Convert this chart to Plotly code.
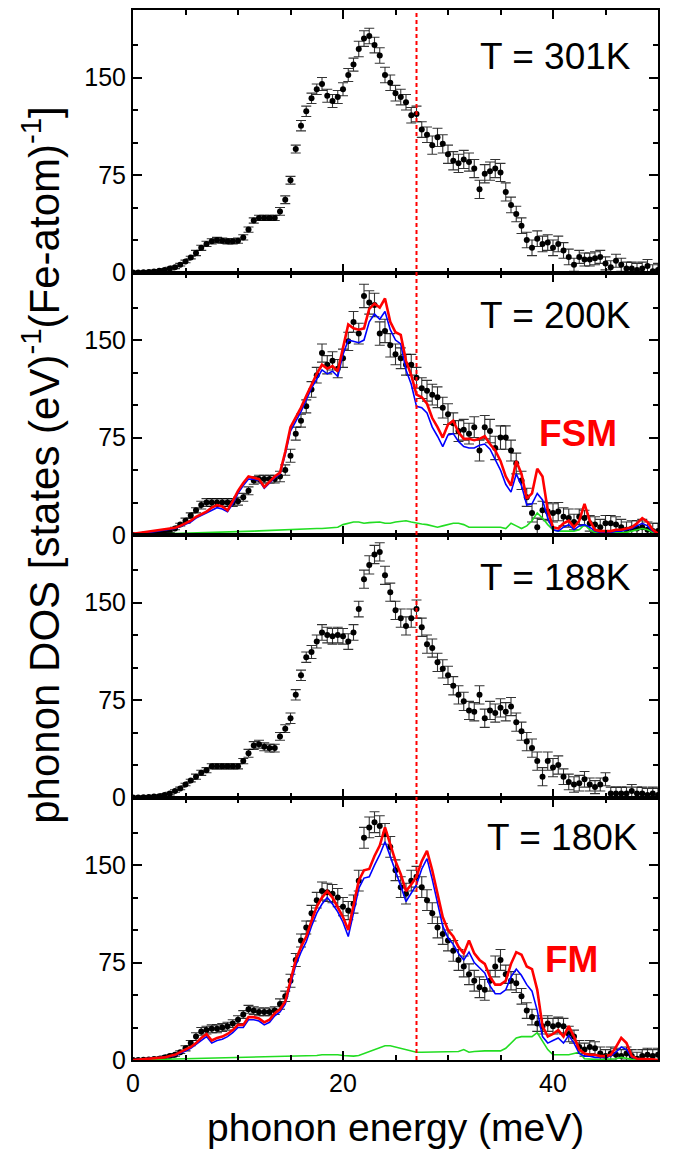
import plotly.graph_objects as go
from plotly.subplots import make_subplots

# energy grid (meV), 0.5 meV steps
energy = [i * 0.5 for i in range(101)]

# ---- T = 301K data ----
dos_301 = [0, 0, 0.2, 0.4, 0.8, 1.3, 2, 3, 4, 6,
           8.5, 11.5, 15, 19, 22, 24, 25, 24.5, 24, 24,
           24.5, 27, 33, 40, 42, 42, 42, 42, 47, 56,
           71, 95, 113, 124, 134, 141, 145, 136, 132, 135,
           141, 152, 160, 172, 180, 182, 175, 167, 152, 146,
           138, 135, 131, 121, 122, 110, 106, 98, 104, 99,
           91, 86, 84, 87, 85, 80, 64, 76, 78, 80,
           77, 62, 52, 45, 36, 25, 19, 26, 22, 23,
           19, 22, 17, 12, 6, 12, 10, 10, 11, 12,
           7, 4, 9, 6, 3, 3, 2, 3, 5, 1,
           2]
err_301 = [1, 1, 1, 1, 1, 1, 1, 1, 1, 1,
           1, 1, 2, 2, 2, 2, 2, 2, 2, 2,
           2, 2, 2, 2, 2, 2, 2, 2, 3, 3,
           3, 3, 4, 4, 4, 4, 5, 5, 5, 5,
           5, 5, 5, 6, 6, 6, 6, 6, 6, 6,
           6, 6, 6, 6, 6, 6, 6, 7, 7, 7,
           7, 7, 7, 7, 7, 7, 7, 7, 7, 7,
           7, 7, 6, 6, 6, 6, 6, 6, 6, 6,
           6, 6, 6, 6, 5, 5, 5, 5, 5, 5,
           5, 5, 5, 5, 5, 5, 5, 5, 5, 5,
           5]

# ---- T = 200K data + FSM calc ----
dos_200 = [0, 0, 0.3, 0.6, 1, 1.5, 2, 3, 5, 8,
           11, 15, 19, 23, 25, 25, 25, 25, 25, 25,
           26, 29, 34, 42, 43, 43, 43, 43, 45, 50,
           61, 78, 88, 99, 112, 123, 140, 131, 134, 128,
           136, 149, 164, 155, 184, 179, 177, 155, 157, 146,
           139, 136, 131, 131, 121, 113, 111, 108, 106, 98,
           93, 86, 80, 81, 78, 83, 65, 83, 80, 67,
           75, 75, 65, 55, 42, 29, 17, 6, 19, 18,
           17, 18, 14, 13, 10, 14, 13, 9, 8, 6,
           9, 9, 8, 6, 4, 5, 5, 6, 4, 3,
           3]
err_200 = [1, 1, 1, 1, 1, 1, 1, 1, 1, 1,
           2, 2, 2, 3, 3, 3, 3, 3, 3, 3,
           3, 3, 3, 3, 3, 3, 3, 3, 4, 4,
           5, 5, 5, 5, 6, 6, 7, 7, 7, 7,
           7, 7, 8, 8, 9, 9, 9, 9, 9, 9,
           8, 8, 8, 8, 8, 8, 8, 8, 8, 8,
           8, 8, 8, 8, 8, 8, 8, 9, 9, 9,
           9, 9, 8, 8, 7, 7, 7, 7, 7, 7,
           7, 7, 7, 7, 6, 6, 6, 6, 6, 6,
           6, 6, 6, 6, 6, 6, 6, 6, 6, 6,
           6]
red_200 = [1, 1.5, 2, 2.5, 3, 3.5, 4, 4.5, 5.5, 7,
           9, 11, 14, 16, 18, 21, 23, 22, 19, 26,
           34, 40, 45, 44, 43, 37, 41, 45, 48, 64,
           83, 90, 98, 107, 116, 124, 131, 128, 130, 126,
           144, 162, 159, 158, 159, 174, 178, 175, 182, 164,
           156, 154, 134, 123, 108, 106, 101, 90, 83, 75,
           85, 88, 79, 74, 74, 73, 74, 76, 70, 65,
           57, 45, 38, 57, 47, 28, 32, 51, 45, 19,
           6, 5, 9, 11, 6, 11, 24, 11, 4, 3,
           3, 3, 4, 4, 5, 6, 9, 13, 10, 4,
           1]
blue_200 = [1, 1.2, 1.5, 2, 2.5, 3, 3.5, 4, 5, 6.5,
            8, 10, 13, 15, 17, 19, 21, 20, 18, 24,
            32, 38, 43, 43, 42, 36, 40, 44, 47, 62,
            80, 87, 95, 104, 113, 120, 127, 124, 126, 122,
            139, 150, 149, 148, 150, 164, 170, 166, 172, 158,
            150, 147, 127, 116, 99, 98, 94, 83, 76, 68,
            77, 78, 72, 68, 67, 67, 69, 70, 66, 58,
            50, 39, 33, 47, 38, 23, 24, 32, 27, 13,
            4, 3, 6, 8, 4, 7, 8, 6, 3, 2,
            2, 2, 3, 3, 4, 5, 7, 9, 7, 3,
            1]
green_200 = [0.2, 0.3, 0.4, 0.5, 0.6, 0.7, 0.8, 0.9, 1, 1.1,
             1.2, 1.3, 1.4, 1.5, 1.6, 1.7, 1.8, 2, 2.1, 2.2,
             2.4, 2.6, 2.8, 3, 3.2, 3.4, 3.5, 3.7, 3.9, 4,
             4, 4.2, 4.4, 4.6, 4.8, 5, 5, 5.2, 5.5, 6,
             8, 9, 10, 10, 9, 9.5, 10, 10, 9, 9,
             10, 10.5, 11, 10, 9, 8.5, 8, 7, 6, 7,
             8, 9, 9, 8, 6, 6, 6, 6.5, 6, 6,
             6, 5, 9, 7, 5, 7, 11, 17, 13, 8,
             4, 3, 3, 3, 3, 4, 8, 4, 2, 2,
             2, 2, 2, 2, 2, 3, 4, 5, 4, 2,
             1]

# ---- T = 188K data ----
dos_188 = [0, 0, 0.2, 0.4, 0.7, 1, 2, 3, 5, 7,
           10, 13, 16, 19, 21, 24, 24, 24, 24, 24,
           24, 28, 34, 40, 41, 39, 38, 38, 47, 53,
           61, 79, 94, 108, 112, 120, 127, 125, 124, 125,
           124, 120, 127, 145, 168, 179, 187, 189, 171, 158,
           144, 138, 132, 138, 145, 131, 118, 115, 104, 99,
           94, 86, 79, 74, 67, 66, 79, 61, 67, 65,
           69, 66, 70, 58, 51, 43, 38, 28, 16, 28,
           23, 25, 16, 12, 10, 11, 14, 10, 8, 10,
           14, 3, 3, 3, 3, 5, 3, 3, 2, 3,
           2]
err_188 = [1, 1, 1, 1, 1, 1, 1, 1, 1, 1,
           1, 1, 2, 2, 2, 2, 2, 2, 2, 2,
           2, 2, 3, 3, 3, 3, 3, 3, 3, 3,
           4, 4, 4, 4, 5, 5, 6, 6, 6, 6,
           6, 6, 6, 6, 7, 7, 7, 7, 7, 7,
           7, 7, 7, 7, 7, 7, 7, 7, 7, 7,
           7, 7, 7, 7, 7, 7, 7, 7, 7, 7,
           7, 7, 7, 7, 7, 7, 7, 7, 7, 7,
           7, 7, 6, 6, 6, 6, 6, 5, 5, 5,
           5, 5, 5, 5, 5, 5, 5, 5, 5, 5,
           5]

# ---- T = 180K data + FM calc ----
dos_180 = [0, 0, 0.2, 0.4, 0.7, 1, 2, 3, 4, 6,
           9, 13, 18, 22, 23, 24, 24, 25, 26, 28,
           31, 35, 39, 38, 37, 37, 37, 38, 43, 49,
           61, 77, 92, 102, 113, 123, 130, 129, 128, 125,
           118, 115, 120, 138, 171, 179, 183, 180, 174, 164,
           146, 133, 128, 138, 141, 133, 123, 113, 102, 97,
           92, 84, 77, 72, 66, 61, 56, 54, 61, 72,
           77, 66, 61, 59, 49, 38, 33, 28, 26, 28,
           26, 27, 26, 20, 18, 10, 8, 10, 9, 5,
           3, 5, 4, 3, 5, 3, 1, 3, 4, 3,
           4]
err_180 = [1, 1, 1, 1, 1, 1, 1, 1, 1, 1,
           2, 2, 3, 3, 3, 3, 3, 3, 3, 3,
           3, 3, 3, 3, 3, 3, 3, 3, 4, 4,
           5, 5, 5, 5, 6, 6, 7, 7, 7, 7,
           7, 7, 7, 8, 8, 8, 8, 8, 8, 8,
           8, 8, 8, 8, 8, 8, 8, 8, 8, 8,
           8, 8, 8, 8, 8, 8, 8, 8, 8, 8,
           8, 7, 7, 7, 6, 6, 6, 6, 6, 6,
           6, 6, 6, 6, 5, 5, 5, 5, 5, 5,
           5, 5, 5, 5, 5, 5, 5, 5, 5, 5,
           5]
red_180 = [0, 0.3, 0.6, 1, 1.3, 1.6, 2, 3, 4, 6,
           8, 10, 13, 17, 20, 15, 17, 18, 20, 23,
           27, 27, 33, 33, 32, 29, 31, 36, 39, 45,
           61, 77, 87, 95, 107, 118, 125, 130, 125, 118,
           110, 100, 118, 138, 146, 147, 157, 165, 179, 166,
           153, 143, 130, 135, 141, 153, 161, 146, 128, 110,
           100, 95, 87, 82, 92, 82, 77, 74, 64, 58,
           58, 61, 74, 83, 81, 72, 70, 54, 26, 18,
           20, 23, 18, 26, 18, 8, 5, 4, 4, 3,
           3, 4, 10, 17, 13, 3, 1, 1, 1, 0.5,
           0]
blue_180 = [0, 0.3, 0.6, 0.9, 1.2, 1.5, 1.8, 2.6, 3.5, 5,
            7, 9, 12, 15, 18, 13, 15, 16, 18, 21,
            25, 25, 31, 31, 30, 27, 29, 34, 37, 43,
            58, 73, 83, 91, 103, 113, 120, 125, 120, 114,
            106, 95, 113, 132, 140, 141, 150, 158, 168, 157,
            145, 134, 122, 128, 135, 147, 155, 139, 121, 103,
            94, 89, 82, 77, 83, 75, 71, 67, 57, 51,
            51, 54, 64, 70, 65, 58, 53, 38, 18, 13,
            15, 17, 13, 19, 13, 5, 3, 3, 2, 2,
            2, 3, 6, 10, 8, 2, 1, 1, 0.5, 0.3,
            0]
green_180 = [0, 0.1, 0.2, 0.3, 0.4, 0.5, 0.6, 0.7, 0.8, 0.9,
             1, 1, 1.1, 1.2, 1.3, 1.3, 1.4, 1.5, 1.5, 1.6,
             1.7, 1.8, 1.9, 2, 2, 2.1, 2.2, 2.3, 2.4, 2.5,
             2.6, 2.8, 3, 3, 3.2, 3.5, 4, 4, 4.5, 4,
             3.5, 3, 3, 3.5, 5, 6, 8, 9.5, 11, 11,
             10, 9, 8, 7, 6, 6, 6, 6, 6, 6,
             6, 6.5, 6.5, 8, 6, 6.5, 7, 7, 7, 7,
             7, 9, 13, 17, 18, 18, 18, 21, 15, 8,
             4, 4, 4, 4, 5, 6, 1, 0.5, 0.5, 0.5,
             0.5, 0.5, 1, 2, 1, 0.5, 0.3, 0.2, 0.2, 0.2,
             0.2]

panel_labels = ["T = 301K", "T = 200K", "T = 188K", "T = 180K"]
dos_sets = [dos_301, dos_200, dos_188, dos_180]
err_sets = [err_301, err_200, err_188, err_180]
calc_sets = {2: (red_200, blue_200, green_200, "FSM"),
             4: (red_180, blue_180, green_180, "FM")}
transition_energy = 27.0

FONT = "Liberation Sans, Arial, sans-serif"

fig = make_subplots(rows=4, cols=1, shared_xaxes=True, vertical_spacing=0)

for i in range(4):
    row = i + 1
    fig.add_trace(go.Scatter(
        x=energy, y=dos_sets[i], mode="markers",
        marker=dict(color="black", size=6),
        error_y=dict(type="data", array=err_sets[i], color="rgba(0,0,0,0.8)",
                     thickness=1.1, width=5),
        showlegend=False), row=row, col=1)
    if row in calc_sets:
        red, blue, green, _ = calc_sets[row]
        fig.add_trace(go.Scatter(x=energy, y=green, mode="lines",
                                 line=dict(color="#22dd22", width=1.6),
                                 showlegend=False), row=row, col=1)
        fig.add_trace(go.Scatter(x=energy, y=blue, mode="lines",
                                 line=dict(color="#0000ff", width=1.6),
                                 showlegend=False), row=row, col=1)
        fig.add_trace(go.Scatter(x=energy, y=red, mode="lines",
                                 line=dict(color="#ff0000", width=2.6),
                                 showlegend=False), row=row, col=1)

for i in range(4):
    row = i + 1
    fig.update_yaxes(range=[0, 202], tickvals=[0, 75, 150], ticks="inside",
                     ticklen=9, tickwidth=1.5, tickcolor="black",
                     minor=dict(tickvals=[25, 50, 100, 125, 175], ticks="inside",
                                ticklen=5, tickwidth=1.5, tickcolor="black"),
                     showline=True, linecolor="black", linewidth=2, mirror="allticks",
                     showgrid=False, zeroline=False,
                     tickfont=dict(family=FONT, size=25, color="black"),
                     row=row, col=1)
    fig.update_xaxes(range=[0, 50], tickvals=[0, 20, 40], ticks="inside",
                     ticklen=9, tickwidth=1.5, tickcolor="black",
                     minor=dict(dtick=5, ticks="inside", ticklen=5, tickwidth=1.5,
                                tickcolor="black"),
                     showline=True, linecolor="black", linewidth=2, mirror="allticks",
                     showgrid=False, zeroline=False,
                     tickfont=dict(family=FONT, size=25, color="black"),
                     row=row, col=1)

yrefs = ["y", "y2", "y3", "y4"]
label_y = [166, 169, 169, 171]
label_x = [47.6, 47.6, 47.6, 48.3]
for i in range(4):
    fig.add_annotation(x=label_x[i], y=label_y[i], xref="x", yref=yrefs[i],
                       text=panel_labels[i], showarrow=False, xanchor="right",
                       yanchor="middle", font=dict(family=FONT, size=37, color="black"))

fig.add_annotation(x=42.4, y=78, xref="x", yref="y2", text="<b>FSM</b>", showarrow=False,
                   xanchor="center", yanchor="middle",
                   font=dict(family=FONT, size=37, color="#ff0000"))
fig.add_annotation(x=41.8, y=77, xref="x", yref="y4", text="<b>FM</b>", showarrow=False,
                   xanchor="center", yanchor="middle",
                   font=dict(family=FONT, size=37, color="#ff0000"))

fig.add_shape(type="line", x0=transition_energy, x1=transition_energy, xref="x",
              y0=0, y1=1, yref="paper", layer="above",
              line=dict(color="#ff0000", width=2, dash="4px,3px"))

fig.add_annotation(x=-0.175, y=0.567, xref="paper", yref="paper",
                   text="phonon DOS [states (eV)<sup>-1</sup>(Fe-atom)<sup>-1</sup>]",
                   textangle=-90, showarrow=False, xanchor="center", yanchor="middle",
                   font=dict(family=FONT, size=42, color="black"))
fig.add_annotation(x=0.5, y=-0.064, xref="paper", yref="paper",
                   text="phonon energy (meV)", showarrow=False,
                   xanchor="center", yanchor="middle",
                   font=dict(family=FONT, size=39, color="black"))

fig.update_layout(width=681, height=1157,
                  margin=dict(l=133, r=23, t=8, b=97),
                  paper_bgcolor="white", plot_bgcolor="white")

fig.write_html("out.html")
